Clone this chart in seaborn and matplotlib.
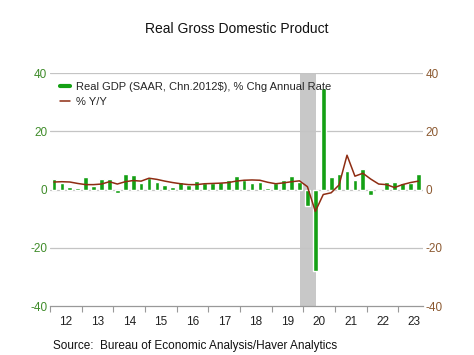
import numpy as np
import pandas as pd
import matplotlib
matplotlib.use("Agg")
import matplotlib.pyplot as plt
from matplotlib.lines import Line2D
import seaborn as sns

# ---- data ----
years = list(range(2012, 2024))
year_labels = ["12", "13", "14", "15", "16", "17", "18", "19", "20", "21", "22", "23"]
quarters = [f"{y}Q{q}" for y in years for q in range(1, 5)][:47]

gdp_saar = [3.5, 2.2, 0.8, 0.5, 4.2, 1.3, 3.7, 3.7,
            -1.3, 5.4, 5.1, 2.3, 3.9, 2.7, 1.6, 0.8,
            2.5, 1.6, 3.1, 2.4, 2.4, 2.5, 3.2, 4.7,
            3.3, 2.1, 2.5, 0.5, 2.1, 3.2, 4.6, 2.5,
            -5.5, -28.0, 34.8, 4.2, 5.2, 6.3, 3.2, 6.9,
            -2.0, -0.6, 2.6, 2.6, 2.1, 2.3, 5.2]
gdp_yoy = [2.6, 2.7, 2.6, 2.1, 1.7, 1.7, 1.9, 2.7,
           1.9, 2.7, 3.1, 2.9, 3.9, 3.5, 2.9, 2.4,
           2.0, 1.7, 1.7, 2.0, 2.1, 2.2, 2.4, 2.9,
           3.2, 3.3, 3.2, 2.5, 2.0, 2.3, 2.7, 3.0,
           1.0, -7.5, -1.7, -1.1, 1.6, 11.8, 4.6, 5.6,
           3.6, 1.9, 1.7, 0.7, 1.7, 2.4, 2.9]
recession = ("2019Q4", "2020Q2")

df = pd.DataFrame({"q": quarters, "pos": np.arange(len(quarters)),
                   "saar": gdp_saar, "yoy": gdp_yoy})

GREEN = "#14a014"
BROWN = "#8e2c12"
LGREEN = "#3f8c2a"
LBROWN = "#8c5a32"
GRID = "#c4c4c4"

sns.set_style("white")
plt.rcParams["font.family"] = ["Liberation Sans", "DejaVu Sans"]
plt.rcParams["axes.unicode_minus"] = False

fig = plt.figure(figsize=(4.74, 3.55), dpi=100)
ax = fig.add_axes([0.1055, 0.138, 0.787, 0.656])

r0 = quarters.index(recession[0])
r1 = quarters.index(recession[1])
ax.axvspan(r0 + 0.05, r1 + 0.05, color="#c8c8c8", lw=0, zorder=0)

for yv in [-20, 0, 20, 40]:
    ax.axhline(yv, color=GRID, lw=0.9, zorder=0.5)

sns.barplot(data=df, x="pos", y="saar", native_scale=True, color=GREEN,
            saturation=1, width=0.6, ax=ax, zorder=2)
sns.lineplot(data=df, x="pos", y="yoy", color=BROWN, lw=1.1, ax=ax, zorder=3)

ax.set_xlim(-0.5, len(quarters) - 0.4)
ax.set_ylim(-40, 40)
ax.set_xlabel("")
ax.set_ylabel("")

# x ticks: year boundaries (major), year labels (minor)
ax.set_xticks([4 * k - 0.5 for k in range(len(years))])
ax.set_xticklabels([])
ax.set_xticks([4 * k + 1.5 for k in range(len(years))], minor=True)
ax.set_xticklabels(year_labels, minor=True)
ax.tick_params(axis="x", which="major", length=4, width=0.8, color="#999999",
               direction="out", bottom=True)
ax.tick_params(axis="x", which="minor", length=0, pad=7, labelsize=8.5,
               labelcolor="#222222")

ax.set_yticks([-40, -20, 0, 20, 40])
ax.tick_params(axis="y", length=0, pad=2, labelsize=8.5, labelcolor=LGREEN)

for s in ["left", "right", "top"]:
    ax.spines[s].set_visible(False)
ax.spines["bottom"].set_color("#999999")
ax.spines["bottom"].set_linewidth(0.9)

ax2 = ax.twinx()
ax2.set_ylim(-40, 40)
ax2.set_yticks([-40, -20, 0, 20, 40])
ax2.tick_params(axis="y", length=0, pad=2, labelsize=8.5, labelcolor=LBROWN)
for s in ax2.spines.values():
    s.set_visible(False)
ax2.grid(False)

handles = [Line2D([], [], color=GREEN, lw=3),
           Line2D([], [], color=BROWN, lw=1.1)]
leg = ax.legend(handles, ["Real GDP (SAAR, Chn.2012$), % Chg Annual Rate", "% Y/Y"],
                loc="upper left", bbox_to_anchor=(0.005, 0.995), frameon=False,
                fontsize=8, handlelength=0.9, handletextpad=0.6,
                labelspacing=0.45, borderaxespad=0.3)
leg.set_zorder(5)

fig.text(0.5, 0.918, "Real Gross Domestic Product", ha="center", va="center",
         fontsize=10, color="#111111")
fig.text(0.111, 0.025, "Source:  Bureau of Economic Analysis/Haver Analytics",
         ha="left", va="center", fontsize=8.5, color="#111111")

fig.savefig("out.png", dpi=100)
